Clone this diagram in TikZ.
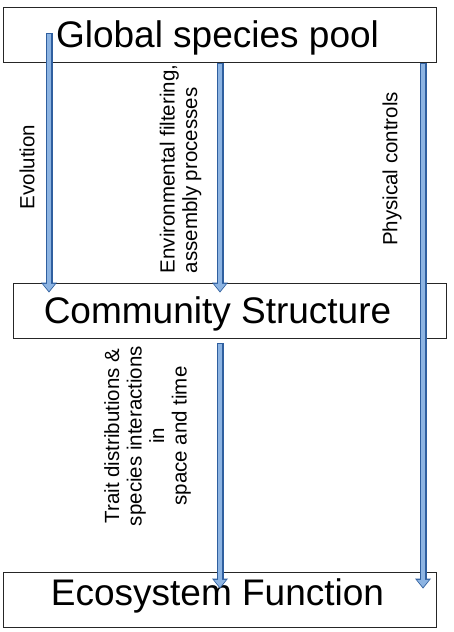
\documentclass[tikz,border=0pt]{standalone}
\usepackage{fontspec}
\setmainfont{Liberation Sans}
\usetikzlibrary{arrows.meta,calc}
\definecolor{arrowfill}{HTML}{8DB4E2}
\definecolor{arrowline}{HTML}{2F5F9F}
\begin{document}
\begin{tikzpicture}[x=1pt,y=-1pt,
  box/.style={draw=black!85, line width=0.9pt, minimum width=433pt, minimum height=55pt, inner sep=0pt},
  title/.style={anchor=base, font=\fontsize{37}{44}\selectfont, inner sep=0pt},
  lab/.style={rotate=90, font=\fontsize{20.5}{22.5}\selectfont, inner sep=0pt},
  fatout/.style={draw=arrowline, line width=7pt, -{Triangle[width=16pt,length=10pt,line width=0pt]}},
  fatin/.style={draw=arrowfill, line width=4.6pt, shorten >=1.4pt, shorten <=1pt, -{Triangle[width=12pt,length=7.4pt,line width=0pt]}},
]
\useasboundingbox (0,0) rectangle (454,632);
\fill[white] (0,0) rectangle (454,632);
% boxes
\node[box] (pool) at (219.5,35) {};
\node[box] (comm) at (229.5,310.5) {};
\node[box] (eco) at (219.5,600) {};
\node[title] (pooltext) at (217.5,47) {Global species pool};
\node[title] (commtext) at (217.5,323) {Community Structure};
\node[title] (ecotext) at (217.5,605) {Ecosystem Function};
% arrow anchor coordinates
\coordinate (evostart) at (49,33);
\coordinate (envx) at (220,0);
\coordinate (physx) at (423,0);
\coordinate (evoend) at ($(comm.north -| evostart)+(0,10)$);
\coordinate (envstart) at (pool.south -| envx);
\coordinate (envend) at ($(comm.north -| envx)+(0,10)$);
\coordinate (physstart) at (pool.south -| physx);
\coordinate (physend) at ($(eco.north -| physx)+(0,16.5)$);
\coordinate (traitstart) at ($(comm.south -| envx)+(0,5)$);
\coordinate (traitend) at ($(eco.north -| envx)+(0,16.5)$);
% arrows
\foreach \s/\e in {evostart/evoend, envstart/envend, physstart/physend, traitstart/traitend}{
  \draw[fatout] (\s) -- (\e);
  \draw[fatin] (\s) -- (\e);
}
% labels
\node[lab] (evolab) at (27,167) {Evolution};
\node[lab, align=left] (envlab) at (180.5,169) {Environmental filtering,\\assembly processes};
\node[lab] (physlab) at (392,169) {Physical controls};
\node[lab, align=center] (traitlab) at (147.5,436) {Trait distributions \&\\species interactions\\in\\space and time};
\end{tikzpicture}
\end{document}
